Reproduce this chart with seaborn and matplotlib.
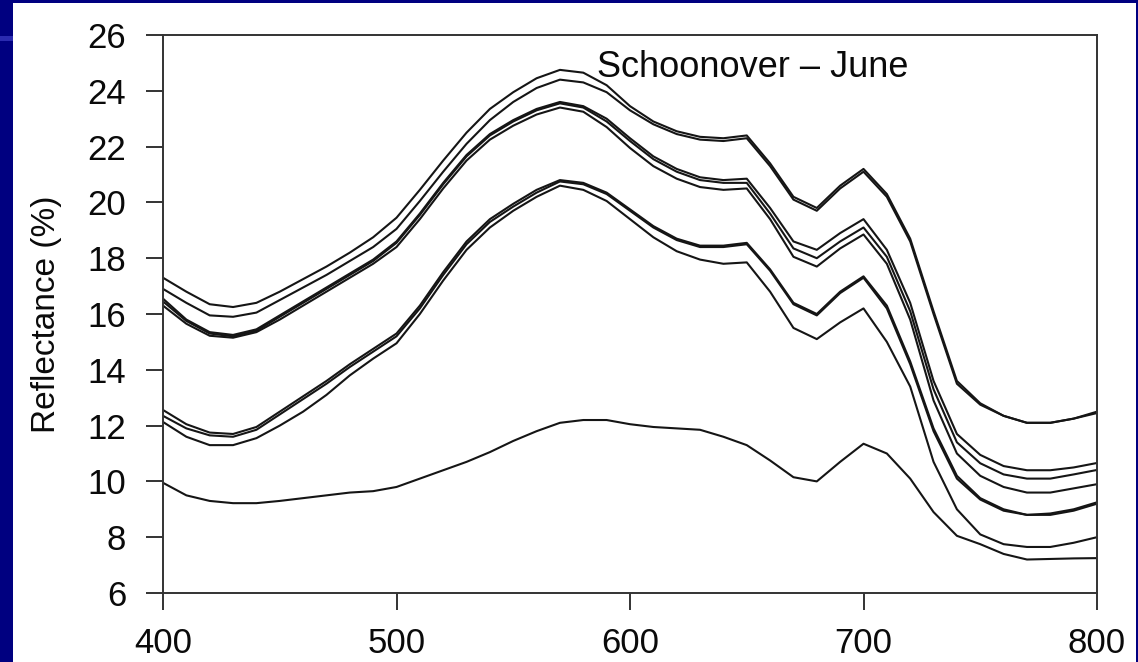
import numpy as np
import pandas as pd
import matplotlib
matplotlib.use("Agg")
import matplotlib.pyplot as plt
from matplotlib.patches import Rectangle
import seaborn as sns

wavelength = list(range(400, 801, 10))

# reflectance spectra (10 nm steps)
top_1 = [17.3, 16.8, 16.35, 16.25, 16.4, 16.8, 17.25, 17.7, 18.2, 18.75, 19.45,
         20.45, 21.5, 22.5, 23.35, 23.95, 24.45, 24.75, 24.65, 24.2, 23.45,
         22.9, 22.55, 22.35, 22.3, 22.4, 21.4, 20.2, 19.8, 20.6, 21.2,
         20.3, 18.7, 16.1, 13.6, 12.8, 12.35, 12.1, 12.1, 12.25, 12.45]
top_2 = [16.9, 16.4, 15.95, 15.9, 16.05, 16.5, 16.95, 17.4, 17.9, 18.4, 19.05,
         20.05, 21.1, 22.1, 22.95, 23.6, 24.1, 24.4, 24.3, 23.95, 23.3,
         22.8, 22.45, 22.25, 22.2, 22.3, 21.3, 20.1, 19.7, 20.5, 21.1,
         20.2, 18.6, 16.0, 13.5, 12.75, 12.35, 12.1, 12.1, 12.25, 12.5]
upper_a = [16.55, 15.8, 15.35, 15.25, 15.45, 15.95, 16.45, 16.95, 17.45, 17.95, 18.6,
           19.6, 20.7, 21.7, 22.45, 22.95, 23.35, 23.6, 23.45, 23.0, 22.3,
           21.65, 21.2, 20.9, 20.8, 20.85, 19.8, 18.6, 18.3, 18.9, 19.4,
           18.3, 16.4, 13.6, 11.7, 10.95, 10.55, 10.4, 10.4, 10.5, 10.66]
upper_b = [16.45, 15.75, 15.3, 15.2, 15.4, 15.9, 16.4, 16.9, 17.4, 17.9, 18.55,
           19.55, 20.65, 21.65, 22.4, 22.9, 23.3, 23.55, 23.4, 22.9, 22.2,
           21.55, 21.1, 20.8, 20.7, 20.7, 19.6, 18.35, 18.0, 18.6, 19.1,
           18.05, 16.1, 13.3, 11.4, 10.65, 10.25, 10.1, 10.1, 10.25, 10.41]
upper_c = [16.3, 15.65, 15.22, 15.15, 15.35, 15.8, 16.3, 16.8, 17.3, 17.8, 18.4,
           19.4, 20.5, 21.5, 22.25, 22.75, 23.15, 23.4, 23.25, 22.7, 21.95,
           21.3, 20.85, 20.55, 20.45, 20.5, 19.4, 18.05, 17.7, 18.35, 18.85,
           17.8, 15.8, 12.9, 11.0, 10.2, 9.8, 9.6, 9.6, 9.75, 9.9]
mid_a = [12.56, 12.05, 11.75, 11.7, 11.95, 12.5, 13.05, 13.6, 14.2, 14.75, 15.3,
         16.3, 17.5, 18.6, 19.4, 19.95, 20.45, 20.8, 20.7, 20.35, 19.75,
         19.15, 18.7, 18.45, 18.45, 18.55, 17.6, 16.4, 16.0, 16.8, 17.35,
         16.3, 14.3, 11.9, 10.2, 9.4, 9.0, 8.8, 8.85, 9.0, 9.25]
mid_b = [12.35, 11.9, 11.65, 11.6, 11.85, 12.4, 12.95, 13.5, 14.1, 14.65, 15.2,
         16.2, 17.4, 18.5, 19.3, 19.85, 20.35, 20.75, 20.65, 20.3, 19.7,
         19.1, 18.65, 18.4, 18.4, 18.5, 17.55, 16.35, 15.95, 16.75, 17.3,
         16.2, 14.2, 11.8, 10.1, 9.35, 8.95, 8.8, 8.8, 8.95, 9.2]
mid_c = [12.13, 11.6, 11.3, 11.3, 11.55, 12.0, 12.5, 13.1, 13.8, 14.4, 14.95,
         16.0, 17.2, 18.3, 19.1, 19.7, 20.2, 20.6, 20.45, 20.05, 19.4,
         18.75, 18.25, 17.95, 17.8, 17.85, 16.8, 15.5, 15.1, 15.7, 16.2,
         15.0, 13.4, 10.7, 9.0, 8.1, 7.75, 7.65, 7.65, 7.8, 8.0]
low = [9.95, 9.5, 9.3, 9.22, 9.22, 9.3, 9.4, 9.5, 9.6, 9.65, 9.8,
       10.1, 10.4, 10.7, 11.05, 11.45, 11.8, 12.1, 12.2, 12.2, 12.05,
       11.95, 11.9, 11.85, 11.6, 11.3, 10.75, 10.15, 10.0, 10.7, 11.35,
       11.0, 10.1, 8.9, 8.05, 7.75, 7.4, 7.2, 7.22, 7.24, 7.25]

curves = {"top_1": top_1, "top_2": top_2, "upper_a": upper_a, "upper_b": upper_b,
          "upper_c": upper_c, "mid_a": mid_a, "mid_b": mid_b, "mid_c": mid_c,
          "low": low}

frames = []
for name, vals in curves.items():
    frames.append(pd.DataFrame({"wavelength": wavelength, "reflectance": vals,
                                "curve": name}))
df = pd.concat(frames, ignore_index=True)

sns.set_style("ticks")
plt.rcParams["font.family"] = ["Liberation Sans", "DejaVu Sans"]

W, H = 1138, 662
fig = plt.figure(figsize=(W / 100, H / 100), dpi=100)
fig.patch.set_facecolor("#000080")
# white scanned page and the little slide stripe on the left margin
fig.patches.append(Rectangle((13 / W, 0), (1136 - 13) / W, (662 - 3) / H,
                             transform=fig.transFigure, facecolor="white",
                             edgecolor="none", zorder=-10))
fig.patches.append(Rectangle((0, (662 - 41) / H), 13 / W, 5 / H,
                             transform=fig.transFigure, facecolor="#2a2ab0",
                             edgecolor="none", zorder=-10))

ax = fig.add_axes([163 / W, (662 - 593) / H, 934 / W, 558 / H])
ax.set_facecolor("white")

sns.lineplot(data=df, x="wavelength", y="reflectance", units="curve",
             estimator=None, color="#151515", linewidth=1.5, ax=ax,
             legend=False)

ax.set_xlim(400, 800)
ax.set_ylim(6, 26)
ax.set_xticks([400, 500, 600, 700, 800])
ax.set_yticks(range(6, 27, 2))

for side in ["left", "right", "top", "bottom"]:
    ax.spines[side].set_visible(True)
    ax.spines[side].set_color("#333333")
    ax.spines[side].set_linewidth(1.4)

ax.tick_params(axis="both", direction="out", length=12.5, width=1.4,
               color="#333333", labelsize=25, labelcolor="#0a0a0a")
ax.tick_params(axis="y", pad=14)
ax.tick_params(axis="x", pad=12)

ax.set_xlabel("")
ax.set_ylabel("Reflectance (%)", fontsize=24, color="#0a0a0a", labelpad=18)

ax.text(586, 24.85, "Schoonover \u2013 June", fontsize=26, color="#0a0a0a",
        ha="left", va="center")

fig.savefig("out.png", dpi=100, facecolor=fig.get_facecolor())
